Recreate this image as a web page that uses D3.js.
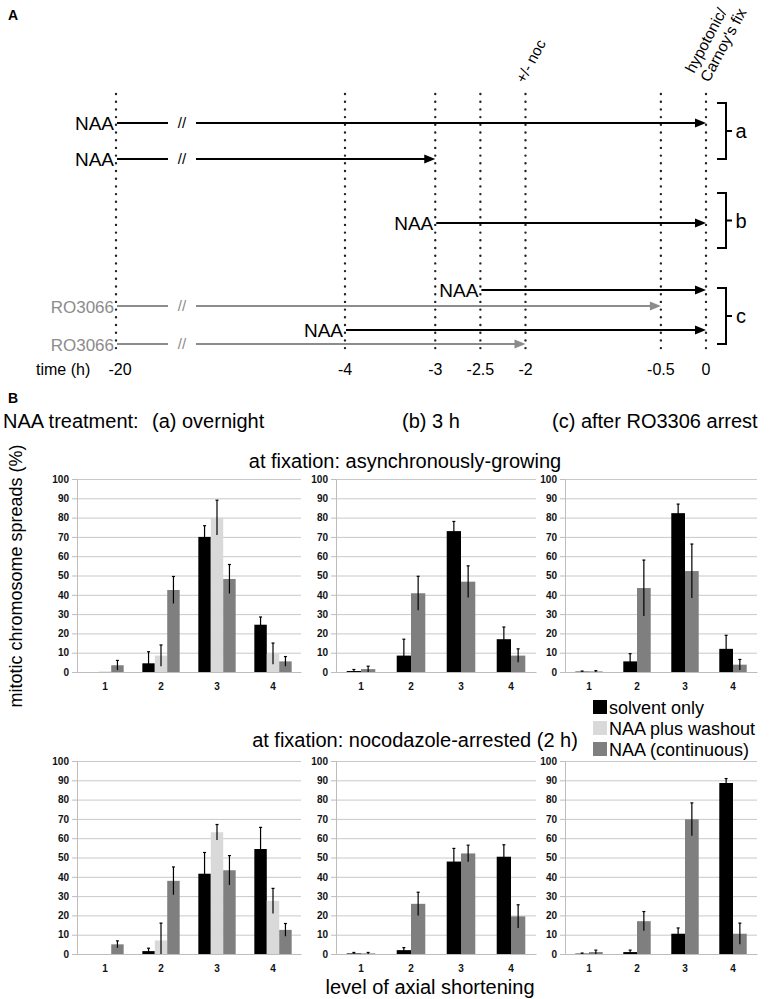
<!DOCTYPE html>
<html><head><meta charset="utf-8">
<script src="https://cdn.jsdelivr.net/npm/d3@7"></script>
<style>body{margin:0;background:#fff} svg{display:block;font-family:"Liberation Sans",Arial,Helvetica,sans-serif}</style>
</head><body><svg id="fig" width="780" height="999"></svg>
<script>
// ---------- Panel A data ----------
const timeTicks = [-20, -4, -3, -2.5, -2, -0.5, 0];
const timeTickLabels = ["-20", "-4", "-3", "-2.5", "-2", "-0.5", "0"];
const arrowRows = ["r1", "r2", "r3", "r4", "r5", "r6", "r7"];
const arrowLabels = ["NAA", "NAA", "NAA", "NAA", "RO3066", "NAA", "RO3066"];
const arrowStart = [-20, -20, -3, -2.5, -20, -4, -20];
const arrowEnd = [0, -3, 0, 0, -0.5, 0, -2];
const arrowKind = ["naa", "naa", "naa", "naa", "ro", "naa", "ro"];
const groupLabels = ["a", "b", "c"];

// ---------- Panel B data ----------
const categories = ["1", "2", "3", "4"];
const seriesNames = ["solvent only", "NAA plus washout", "NAA (continuous)"];
const yTicks = [0, 10, 20, 30, 40, 50, 60, 70, 80, 90, 100];
const columnHeads = ["(a) overnight", "(b) 3 h", "(c) after RO3306 arrest"];

// asynchronously-growing, (a) overnight
const asyncA_solvent = [0, 4.5, 70, 24.5];
const asyncA_solventErr = [0, 6, 5.8, 4];
const asyncA_washout = [0.3, 8.5, 80, 9.5];
const asyncA_washoutErr = [0, 5.5, 9, 5.5];
const asyncA_cont = [3.5, 42.5, 48.2, 5.5];
const asyncA_contErr = [2.5, 7, 7.5, 2.5];
// asynchronously-growing, (b) 3 h
const asyncB_solvent = [0.5, 8.5, 73, 17];
const asyncB_solventErr = [0.8, 8.5, 5, 6.3];
const asyncB_cont = [1.5, 40.8, 46.8, 8.5];
const asyncB_contErr = [1.5, 8.8, 8.2, 3.5];
// asynchronously-growing, (c) after RO3306
const asyncC_solvent = [0.2, 5.5, 82.3, 12];
const asyncC_solventErr = [0.3, 4, 4.7, 7];
const asyncC_cont = [0.3, 43.5, 52.3, 3.8];
const asyncC_contErr = [0.4, 14.5, 14, 2.7];
// nocodazole-arrested, (a) overnight
const nocA_solvent = [0, 1.5, 41.6, 54.4];
const nocA_solventErr = [0, 1.5, 11, 11.2];
const nocA_washout = [0, 7, 63.1, 27.5];
const nocA_washoutErr = [0, 9, 4, 6.5];
const nocA_cont = [5, 37.9, 43.4, 12.5];
const nocA_contErr = [1.8, 7.2, 7.6, 3.3];
// nocodazole-arrested, (b) 3 h
const nocB_solvent = [0.3, 2, 47.9, 50.4];
const nocB_solventErr = [0.5, 1.3, 6.8, 6.2];
const nocB_cont = [0.3, 26, 52.1, 19.5];
const nocB_contErr = [0.5, 6, 4.3, 6];
// nocodazole-arrested, (c) after RO3306
const nocC_solvent = [0.2, 1, 10.5, 88.6];
const nocC_solventErr = [0.3, 1, 3, 2.3];
const nocC_cont = [1, 17, 69.8, 10.5];
const nocC_contErr = [1, 5, 8.5, 5.5];

// ---------- drawing ----------
const svg = d3.select("#fig");
const seriesColors = ["#000000", "#d9d9d9", "#7f7f7f"];
const grey = "#8c8c8c";

// Panel labels
svg.append("text").attr("x", 8).attr("y", 20).attr("font-size", 14).attr("font-weight", "bold").text("A");
svg.append("text").attr("x", 8).attr("y", 403).attr("font-size", 14).attr("font-weight", "bold").text("B");

// ---- Panel A timeline ----
const tx = d3.scaleLinear().domain([-20, -4, 0]).range([116, 345, 706]);
const ry = d3.scaleOrdinal().domain(arrowRows).range([123, 159, 223, 290, 306, 330, 344]);
const gA = svg.append("g");

// dotted lines
gA.selectAll("line.dot").data(timeTicks).join("line")
  .attr("x1", d => tx(d)).attr("x2", d => tx(d))
  .attr("y1", 94).attr("y2", 353)
  .attr("stroke", "#222").attr("stroke-width", 2.4)
  .attr("stroke-linecap", "round").attr("stroke-dasharray", "0,7.7");

// time labels
gA.append("text").attr("x", 36).attr("y", 375).attr("font-size", 16).text("time (h)");
gA.selectAll("text.tl").data(timeTicks).join("text")
  .attr("x", d => tx(d) + (d === -20 ? 4 : 0)).attr("y", 375)
  .attr("text-anchor", "middle").attr("font-size", 16)
  .text((d, i) => timeTickLabels[i]);

// arrows
function drawArrow(g, x1, x2, y, color) {
  g.append("line").attr("x1", x1).attr("x2", x2 - 9).attr("y1", y).attr("y2", y)
    .attr("stroke", color).attr("stroke-width", 2);
  g.append("path").attr("d", `M${x2},${y} L${x2 - 11},${y - 4.5} L${x2 - 11},${y + 4.5} Z`).attr("fill", color);
}
arrowRows.forEach((r, i) => {
  const y = ry(r);
  const color = arrowKind[i] === "ro" ? grey : "#000";
  const xs = tx(arrowStart[i]), xe = tx(arrowEnd[i]);
  if (arrowStart[i] === -20) {
    gA.append("line").attr("x1", xs + 1).attr("x2", xs + 52).attr("y1", y).attr("y2", y)
      .attr("stroke", color).attr("stroke-width", 2);
    gA.append("text").attr("x", xs + 66).attr("y", y + 5).attr("text-anchor", "middle")
      .attr("font-size", 15).attr("fill", color).text("//");
    drawArrow(gA, xs + 80, xe, y, color);
  } else {
    drawArrow(gA, xs + 1, xe, y, color);
  }
  gA.append("text").attr("x", xs - 2).attr("y", y + 7).attr("text-anchor", "end")
    .attr("font-size", arrowKind[i] === "ro" ? 17 : 19).attr("fill", arrowKind[i] === "ro" ? grey : "#000")
    .text(arrowLabels[i]);
});

// brackets
const brackets = [
  [ry("r1") - 20, ry("r2")],
  [ry("r3") - 30, ry("r3") + 25],
  [ry("r4") - 2, ry("r7")]
];
brackets.forEach((b, i) => {
  const x0 = 717, x1 = 726, ym = (b[0] + b[1]) / 2;
  gA.append("path").attr("d", `M${x0},${b[0]} H${x1} V${b[1]} H${x0} M${x1},${ym} H${x1 + 6}`)
    .attr("fill", "none").attr("stroke", "#000").attr("stroke-width", 2);
  gA.append("text").attr("x", 741).attr("y", ym + 7).attr("text-anchor", "middle")
    .attr("font-size", 20).text(groupLabels[i]);
});

// rotated annotations
gA.append("text").attr("transform", `translate(${tx(-2) - 1},84) rotate(-62)`)
  .attr("font-size", 15).text("+/- noc");
gA.append("text").attr("transform", `translate(694,74) rotate(-62)`)
  .attr("font-size", 15.5).text("hypotonic/");
gA.append("text").attr("transform", `translate(709,83) rotate(-62)`)
  .attr("font-size", 15.5).text("Carnoy's fix");

// ---- Panel B ----
svg.append("text").attr("x", 3).attr("y", 428).attr("font-size", 20).text("NAA treatment:");
const headX = [152, 402, 552];
columnHeads.forEach((t, i) => svg.append("text").attr("x", headX[i]).attr("y", 428).attr("font-size", 20).text(t));

svg.append("text").attr("x", 405).attr("y", 468).attr("text-anchor", "middle").attr("font-size", 20)
  .text("at fixation: asynchronously-growing");
svg.append("text").attr("x", 415).attr("y", 747).attr("text-anchor", "middle").attr("font-size", 20)
  .text("at fixation: nocodazole-arrested (2 h)");

svg.append("text").attr("transform", "translate(22,576) rotate(-90)").attr("text-anchor", "middle")
  .attr("font-size", 18).text("mitotic chromosome spreads (%)");
svg.append("text").attr("x", 430).attr("y", 994).attr("text-anchor", "middle").attr("font-size", 20)
  .text("level of axial shortening");

const panels = [
  { xr: [77, 301], yr: [672, 479], s: [[asyncA_solvent, asyncA_solventErr, 0], [asyncA_washout, asyncA_washoutErr, 1], [asyncA_cont, asyncA_contErr, 2]] },
  { xr: [336, 536], yr: [672, 479], s: [[asyncB_solvent, asyncB_solventErr, 0], [asyncB_cont, asyncB_contErr, 2]] },
  { xr: [565, 757], yr: [672, 479], s: [[asyncC_solvent, asyncC_solventErr, 0], [asyncC_cont, asyncC_contErr, 2]] },
  { xr: [77, 301], yr: [954, 761], s: [[nocA_solvent, nocA_solventErr, 0], [nocA_washout, nocA_washoutErr, 1], [nocA_cont, nocA_contErr, 2]] },
  { xr: [336, 536], yr: [954, 761], s: [[nocB_solvent, nocB_solventErr, 0], [nocB_cont, nocB_contErr, 2]] },
  { xr: [565, 757], yr: [954, 761], s: [[nocC_solvent, nocC_solventErr, 0], [nocC_cont, nocC_contErr, 2]] }
];

panels.forEach(p => {
  const g = svg.append("g");
  const x = d3.scaleBand().domain(categories).range(p.xr);
  const y = d3.scaleLinear().domain([0, 100]).range(p.yr);
  const w = p.xr[1] - p.xr[0];
  // grid
  const grid = g.append("g").attr("transform", `translate(${p.xr[0]},0)`)
    .call(d3.axisLeft(y).tickValues(yTicks.slice(1)).tickSize(-w).tickFormat(""));
  grid.select(".domain").remove();
  grid.selectAll("line").attr("stroke", "#c9c9c9");
  // y axis
  const ya = g.append("g").attr("transform", `translate(${p.xr[0]},0)`)
    .call(d3.axisLeft(y).tickValues(yTicks).tickSize(5).tickPadding(3));
  ya.select(".domain").attr("stroke", "#bdbdbd");
  ya.selectAll("line").attr("stroke", "#bdbdbd");
  ya.selectAll("text").attr("font-size", 10).attr("font-weight", "bold").attr("fill", "#111")
    .attr("font-family", '"Liberation Sans", Arial, sans-serif');
  // x axis
  const xa = g.append("g").attr("transform", `translate(0,${p.yr[0]})`)
    .call(d3.axisBottom(x).tickSize(0).tickPadding(11));
  xa.select(".domain").attr("stroke", "#bdbdbd");
  xa.selectAll("text").attr("font-size", 10).attr("font-weight", "bold").attr("fill", "#111")
    .attr("font-family", '"Liberation Sans", Arial, sans-serif');
  // bars
  const n = p.s.length;
  const bw = x.bandwidth() / (n + 1.5);
  p.s.forEach((ser, k) => {
    const vals = ser[0], errs = ser[1], ci = ser[2];
    const off = x.bandwidth() / 2 - (n * bw) / 2 + k * bw;
    g.selectAll(null).data(categories).join("rect")
      .attr("x", d => x(d) + off).attr("width", bw)
      .attr("y", (d, i) => y(vals[i])).attr("height", (d, i) => y(0) - y(vals[i]))
      .attr("fill", seriesColors[ci]);
    categories.forEach((c, i) => {
      if (!errs[i]) return;
      const cx = x(c) + off + bw / 2;
      const top = y(vals[i] + errs[i]), bot = y(Math.max(0, vals[i] - errs[i]));
      g.append("line").attr("x1", cx).attr("x2", cx).attr("y1", top).attr("y2", bot)
        .attr("stroke", "#000").attr("stroke-width", 1.2);
      g.append("line").attr("x1", cx - 1.5).attr("x2", cx + 1.5).attr("y1", top).attr("y2", top)
        .attr("stroke", "#000").attr("stroke-width", 1.2);
    });
  });
});

// legend
const lg = svg.append("g");
seriesNames.forEach((s, i) => {
  lg.append("rect").attr("x", 593).attr("y", 700 + i * 21).attr("width", 14).attr("height", 14)
    .attr("fill", seriesColors[i]);
  lg.append("text").attr("x", 609).attr("y", 714 + i * 21).attr("font-size", 18).text(s);
});
</script>
</body></html>
